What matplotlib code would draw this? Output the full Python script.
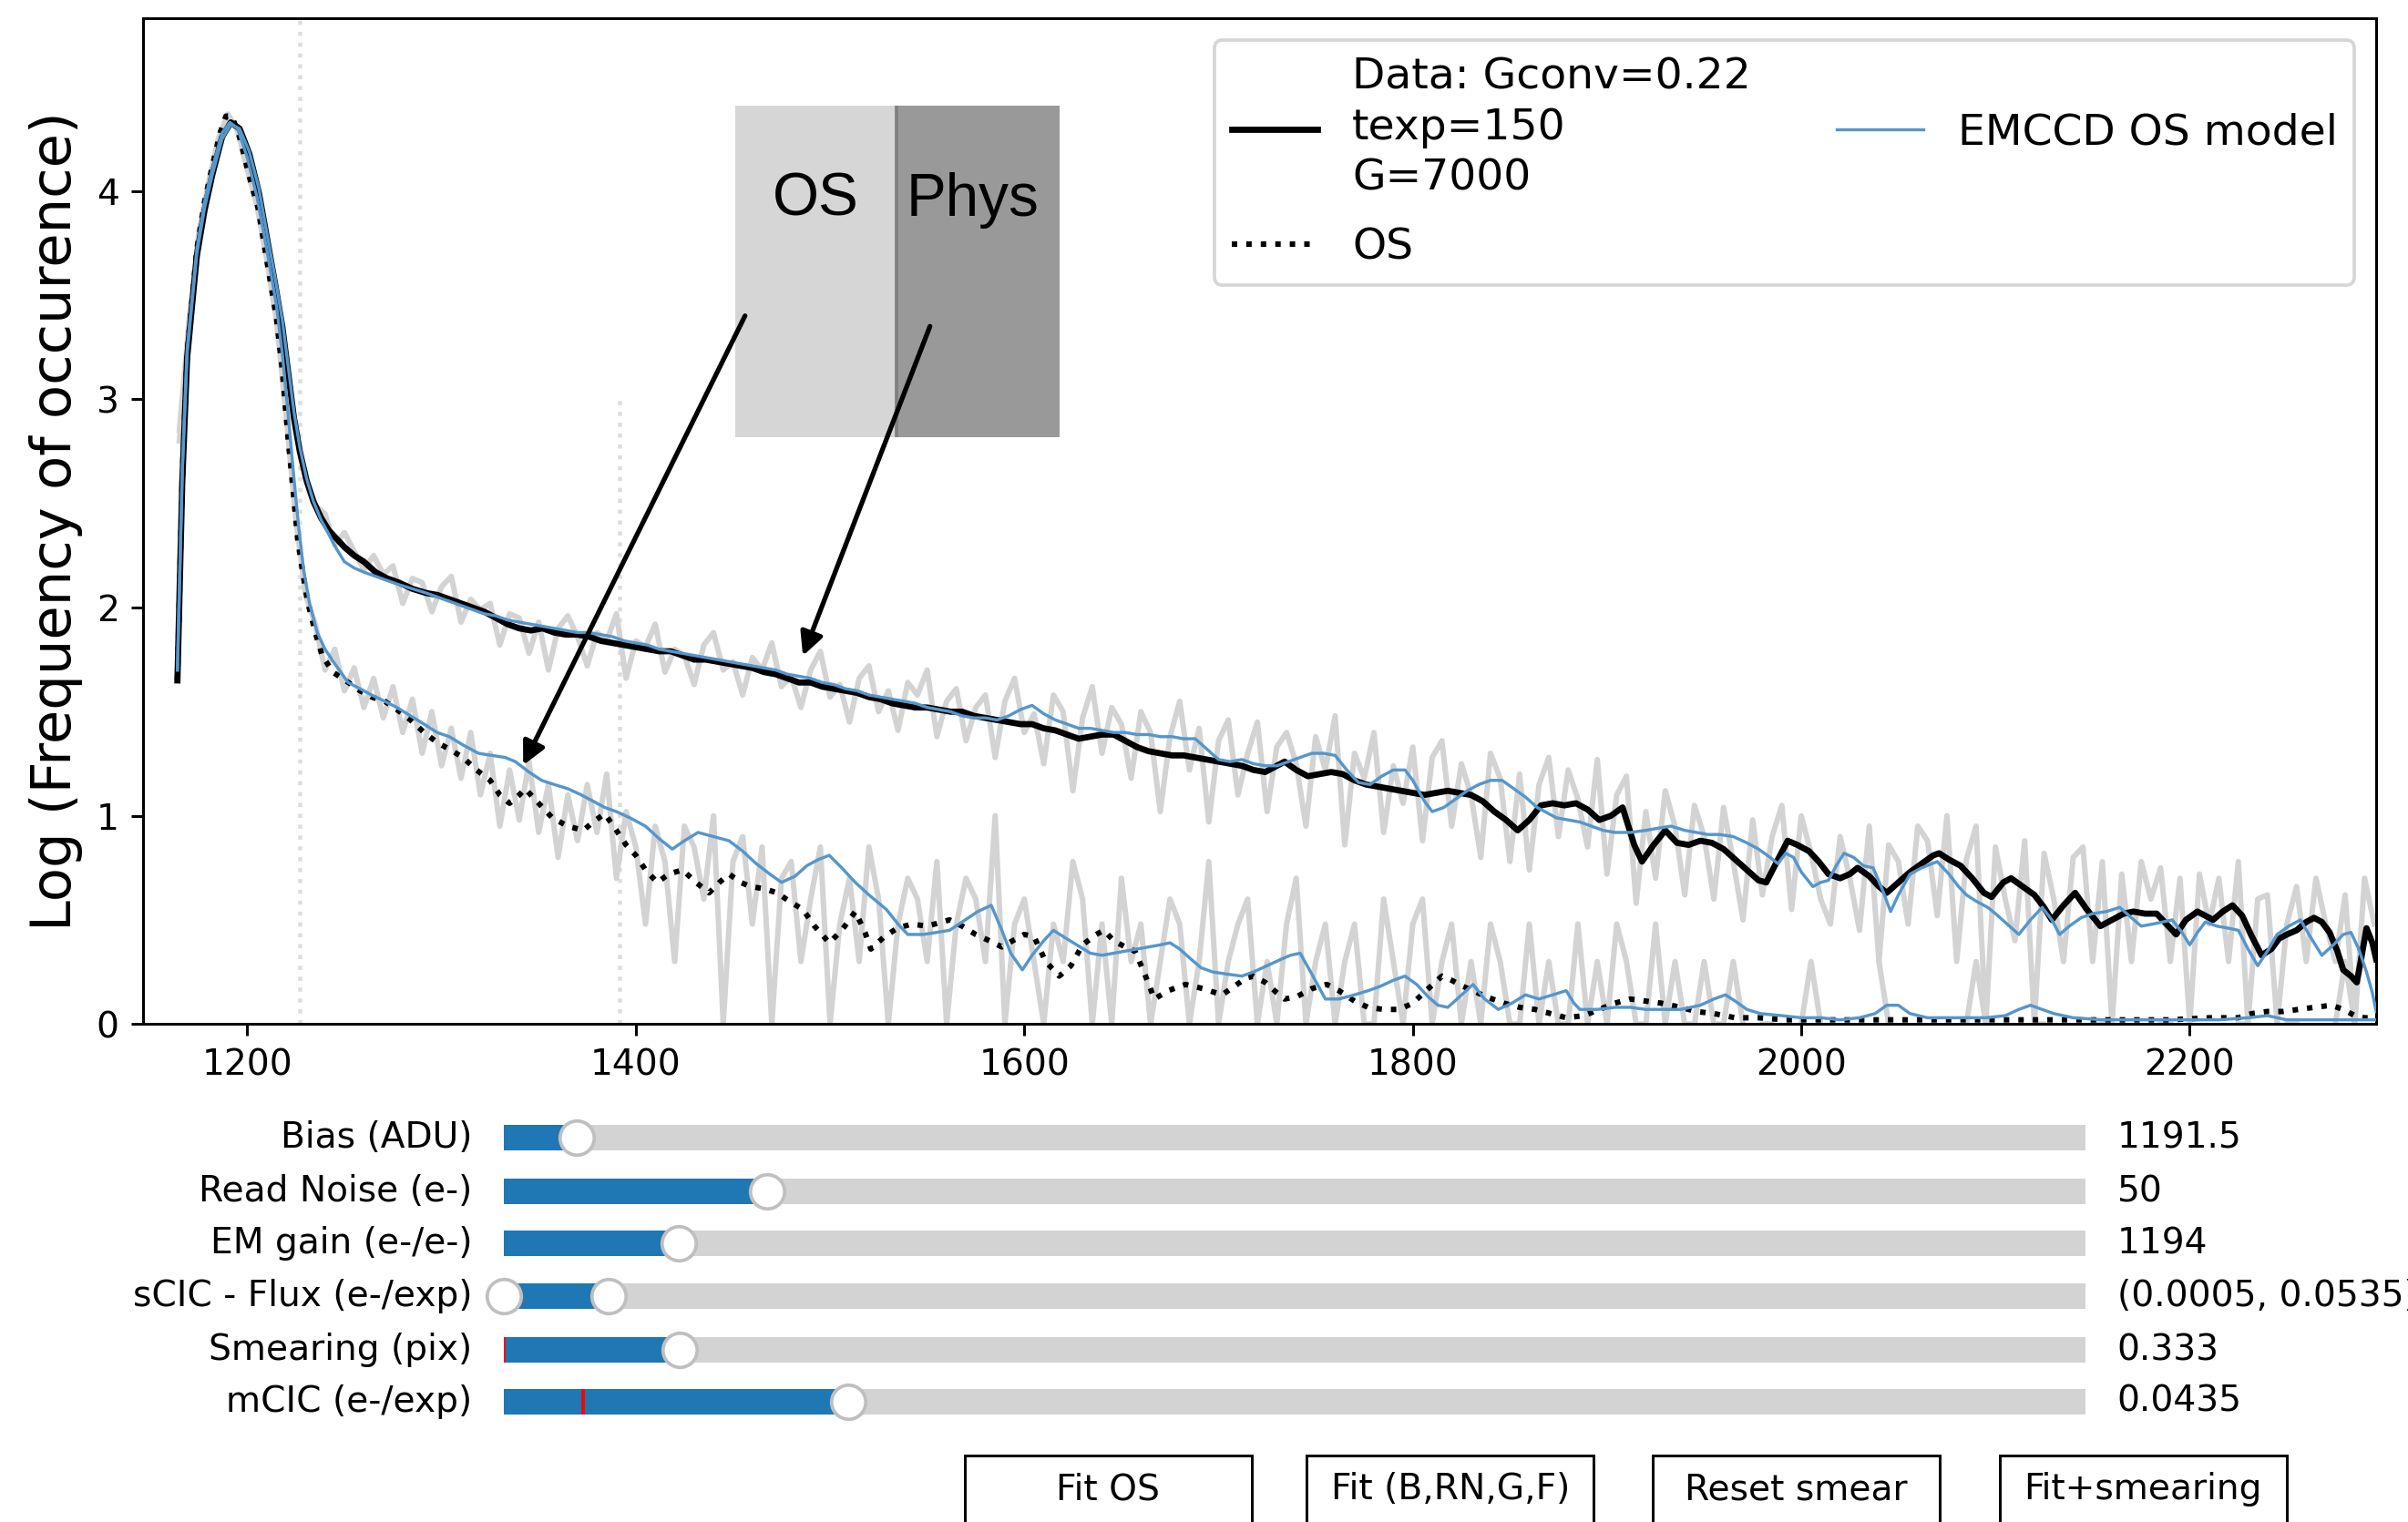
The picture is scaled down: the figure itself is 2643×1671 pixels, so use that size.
import numpy as np
import matplotlib
matplotlib.use("Agg")
import matplotlib.pyplot as plt
from matplotlib.patches import Rectangle
from matplotlib.widgets import Slider, RangeSlider, Button

plt.rcParams['font.size'] = 10.45

# raw log-histograms (5 ADU bins)
raw_x = np.arange(1165, 2300, 5)
phys_raw = [
    2.80, 3.35, 3.75, 4.00, 4.20, 4.33, 4.31, 4.20, 4.02, 3.78,
    3.52, 3.20, 2.85, 2.62, 2.49, 2.45, 2.30, 2.36, 2.27, 2.18,
    2.25, 2.16, 2.20, 2.02, 2.14, 2.12, 1.98, 2.10, 2.15, 1.93,
    2.04, 1.99, 2.02, 1.82, 1.97, 1.95, 1.78, 1.93, 1.70, 1.90,
    1.96, 1.86, 1.72, 1.88, 1.84, 1.97, 1.66, 1.84, 1.81, 1.92,
    1.69, 1.80, 1.77, 1.63, 1.82, 1.88, 1.70, 1.74, 1.58, 1.76,
    1.70, 1.83, 1.62, 1.67, 1.52, 1.70, 1.79, 1.57, 1.63, 1.45,
    1.66, 1.72, 1.50, 1.60, 1.41, 1.64, 1.58, 1.70, 1.38, 1.55,
    1.61, 1.36, 1.52, 1.58, 1.28, 1.55, 1.66, 1.40, 1.49, 1.25,
    1.58, 1.50, 1.12, 1.47, 1.62, 1.30, 1.52, 1.44, 1.18, 1.50,
    1.40, 1.02, 1.38, 1.55, 1.22, 1.42, 0.97, 1.36, 1.46, 1.10,
    1.30, 1.45, 1.02, 1.33, 1.40, 1.25, 0.95, 1.38, 1.22, 1.48,
    0.86, 1.30, 1.18, 1.40, 0.92, 1.24, 1.06, 1.33, 0.88, 1.28,
    1.36, 0.95, 1.25, 1.10, 0.80, 1.30, 1.18, 0.78, 1.20, 0.74,
    1.15, 1.28, 0.90, 1.22, 1.08, 0.85, 1.27, 0.72, 1.10, 1.19,
    0.58, 1.02, 0.70, 1.12, 0.95, 0.62, 1.05, 0.90, 0.60, 1.04,
    0.78, 0.50, 0.98, 0.62, 0.90, 1.05, 0.55, 1.00, 0.82, 0.60,
    0.48, 0.90, 0.70, 0.45, 0.95, 0.30, 0.86, 0.78, 0.48, 0.95,
    0.88, 0.52, 1.00, 0.30, 0.79, 0.95, 0.00, 0.85, 0.60, 0.40,
    0.88, 0.00, 0.82, 0.60, 0.30, 0.80, 0.85, 0.30, 0.78, 0.00,
    0.72, 0.30, 0.78, 0.60, 0.75, 0.30, 0.70, 0.00, 0.72, 0.48,
    0.70, 0.30, 0.78, 0.00, 0.60, 0.62, 0.00, 0.48, 0.66, 0.30,
    0.70, 0.48, 0.30, 0.62, 0.00, 0.70, 0.48,
]
nan = np.nan
os_raw = [
    2.85, 3.38, 3.80, 4.04, 4.25, 4.37, 4.29, 4.10, 3.93, 3.67,
    3.38, 2.92, 2.42, 2.06, 1.92, 1.70, 1.80, 1.60, 1.71, 1.52,
    1.66, 1.47, 1.62, 1.40, 1.56, 1.30, 1.50, 1.24, 1.42, 1.18,
    1.40, 1.10, 1.30, 0.95, 1.22, 0.98, 1.26, 0.92, 1.15, 0.80,
    1.10, 0.88, 1.15, 0.92, 1.20, 0.70, 1.02, 0.85, 0.48, 0.95,
    0.78, 0.30, 0.95, 0.85, 0.60, 1.00, 0.00, 0.78, 0.90, 0.48,
    0.85, 0.00, 0.70, 0.78, 0.30, 0.60, 0.85, 0.00, 0.48, 0.70,
    0.30, 0.85, 0.60, 0.00, 0.48, 0.70, 0.60, 0.30, 0.78, 0.00,
    0.48, 0.70, 0.60, 0.30, 1.00, 0.00, 0.48, 0.60, 0.30, 0.00,
    0.48, 0.30, 0.78, 0.60, 0.00, 0.48, 0.00, 0.70, 0.30, 0.48,
    0.00, 0.30, 0.60, 0.48, 0.00, 0.30, 0.78, 0.00, 0.30, 0.48,
    0.60, 0.00, 0.30, 0.00, 0.48, 0.70, 0.00, 0.30, 0.48, 0.00,
    0.30, 0.48, 0.00, 0.00, 0.60, 0.30, 0.00, 0.48, 0.60, 0.00,
    0.30, 0.48, 0.00, 0.30, 0.00, 0.48, 0.30, 0.00, 0.00, 0.48,
    0.00, 0.30, 0.00, 0.00, 0.48, 0.00, 0.30, 0.00, 0.48, 0.30,
    0.00, 0.00, 0.48, 0.00, 0.30, 0.00, 0.00, 0.30, 0.00, 0.00,
    0.30, 0.00, nan, 0.00, 0.00, nan, nan, 0.00, 0.30, 0.00,
    nan, nan, 0.00, nan, nan, 0.30, 0.00, nan, nan, nan,
    0.00, nan, nan, nan, 0.00, 0.30, 0.00, nan, nan, nan,
    nan, 0.00, 0.00, nan, nan, nan, nan, 0.00, 0.00, nan,
    nan, nan, nan, nan, 0.00, 0.00, nan, nan, nan, nan,
    nan, nan, 0.00, 0.00, nan, nan, nan, 0.00, 0.00, nan,
    nan, nan, 0.00, 0.30, 0.00, nan, 0.00,
]

# smoothed data, physical region
phys_x = [1164, 1166.5, 1169, 1174, 1178, 1182, 1187, 1191.5, 1196, 1201, 1206, 1210, 1214, 1218, 1221, 1224, 1227, 1230.5, 1234, 1238,
          1242, 1246, 1250, 1255, 1260, 1266, 1272, 1278, 1285, 1292, 1298, 1304, 1310, 1316, 1322, 1328, 1334, 1340, 1346, 1352,
          1358, 1364, 1370, 1376, 1382, 1388, 1394, 1400, 1406, 1412, 1418, 1424, 1430, 1436, 1442, 1448, 1454, 1460, 1466, 1472,
          1478, 1484, 1490, 1496, 1502, 1508, 1514, 1520, 1526, 1532, 1538, 1544, 1550, 1556, 1562, 1568, 1574, 1580, 1586, 1592,
          1598, 1604, 1610, 1616, 1622, 1628, 1634, 1640, 1646, 1652, 1658, 1664, 1670, 1676, 1682, 1688, 1694, 1700, 1706, 1712,
          1718, 1724, 1730, 1734, 1740, 1746, 1752, 1758, 1764, 1770, 1776, 1782, 1788, 1794, 1800, 1806, 1812, 1818, 1824, 1830,
          1836, 1842, 1848, 1854, 1860, 1866, 1872, 1878, 1884, 1890, 1896, 1902, 1908, 1914, 1918, 1924, 1930, 1936, 1942, 1948,
          1954, 1960, 1966, 1972, 1978, 1982, 1988, 1993, 1998, 2004, 2009, 2014, 2020, 2025, 2029, 2035, 2040, 2044, 2050, 2056,
          2062, 2068, 2071, 2076, 2082, 2088, 2094, 2098, 2104, 2108, 2114, 2120, 2125, 2129, 2135, 2141, 2147, 2154, 2160, 2166,
          2171, 2177, 2183, 2188, 2193, 2198, 2204, 2208, 2212, 2217, 2222, 2227, 2232, 2237, 2242, 2246, 2250, 2255, 2260, 2264,
          2268, 2272, 2276, 2279, 2283, 2286, 2288, 2291, 2294, 2296]
phys_y = [1.65, 2.60, 3.20, 3.69, 3.91, 4.08, 4.26, 4.33, 4.30, 4.18, 3.99, 3.78, 3.57, 3.35, 3.13, 2.91, 2.75, 2.61, 2.51, 2.43,
          2.37, 2.33, 2.29, 2.25, 2.22, 2.17, 2.14, 2.12, 2.09, 2.07, 2.06, 2.04, 2.02, 2.00, 1.98, 1.95, 1.92, 1.90, 1.89, 1.90,
          1.88, 1.87, 1.87, 1.86, 1.84, 1.83, 1.82, 1.81, 1.80, 1.79, 1.79, 1.77, 1.75, 1.75, 1.74, 1.73, 1.72, 1.71, 1.69, 1.68,
          1.66, 1.64, 1.64, 1.62, 1.61, 1.60, 1.59, 1.57, 1.56, 1.54, 1.53, 1.52, 1.52, 1.51, 1.50, 1.50, 1.48, 1.47, 1.46, 1.45,
          1.44, 1.44, 1.42, 1.41, 1.39, 1.37, 1.38, 1.39, 1.39, 1.36, 1.33, 1.31, 1.30, 1.29, 1.29, 1.28, 1.27, 1.26, 1.25, 1.24,
          1.22, 1.21, 1.24, 1.26, 1.22, 1.19, 1.20, 1.21, 1.20, 1.17, 1.15, 1.14, 1.13, 1.12, 1.11, 1.10, 1.11, 1.12, 1.11, 1.10,
          1.07, 1.02, 0.98, 0.93, 0.98, 1.05, 1.06, 1.05, 1.06, 1.03, 0.98, 1.00, 1.04, 0.86, 0.78, 0.86, 0.93, 0.87, 0.86, 0.88,
          0.87, 0.84, 0.79, 0.74, 0.69, 0.68, 0.79, 0.88, 0.86, 0.83, 0.78, 0.72, 0.70, 0.72, 0.75, 0.71, 0.66, 0.63, 0.68, 0.73,
          0.77, 0.81, 0.82, 0.79, 0.76, 0.70, 0.63, 0.61, 0.68, 0.70, 0.66, 0.62, 0.56, 0.50, 0.57, 0.63, 0.55, 0.47, 0.50, 0.53,
          0.54, 0.53, 0.53, 0.48, 0.43, 0.50, 0.54, 0.52, 0.50, 0.54, 0.57, 0.52, 0.42, 0.33, 0.36, 0.41, 0.43, 0.45, 0.49, 0.51,
          0.49, 0.44, 0.35, 0.26, 0.23, 0.20, 0.30, 0.46, 0.39, 0.31]

# EMCCD model, physical region
model_x = [1164, 1166.5, 1169, 1174, 1178, 1182, 1187, 1191.5, 1196, 1201, 1206, 1210, 1214, 1218, 1221, 1224, 1227, 1230.5, 1234, 1238,
           1242, 1246, 1250, 1255, 1260, 1266, 1272, 1278, 1285, 1292, 1298, 1304, 1310, 1316, 1322, 1328, 1334, 1340, 1346, 1352,
           1358, 1364, 1370, 1376, 1382, 1388, 1394, 1400, 1406, 1412, 1418, 1424, 1430, 1436, 1442, 1448, 1454, 1460, 1466, 1472,
           1478, 1484, 1490, 1496, 1502, 1508, 1514, 1520, 1526, 1532, 1538, 1544, 1550, 1556, 1562, 1568, 1574, 1580, 1586, 1592,
           1598, 1604, 1610, 1616, 1622, 1628, 1634, 1640, 1646, 1652, 1658, 1664, 1670, 1676, 1682, 1688, 1694, 1700, 1706, 1712,
           1718, 1724, 1730, 1736, 1742, 1748, 1754, 1760, 1766, 1772, 1778, 1784, 1790, 1796, 1800, 1806, 1810, 1816, 1822, 1828,
           1834, 1840, 1846, 1852, 1858, 1864, 1870, 1874, 1880, 1886, 1892, 1898, 1904, 1912, 1920, 1926, 1933, 1940, 1946, 1952,
           1958, 1965, 1972, 1978, 1984, 1988, 1992, 1996, 2000, 2006, 2010, 2014, 2018, 2022, 2027, 2032, 2037, 2042, 2046, 2050,
           2056, 2062, 2070, 2076, 2081, 2085, 2090, 2096, 2100, 2106, 2112, 2118, 2124, 2129, 2133, 2138, 2144, 2150, 2157, 2164,
           2170, 2175, 2181, 2186, 2191, 2196, 2200, 2204, 2208, 2214, 2220, 2225, 2230, 2235, 2240, 2245, 2251, 2257, 2262, 2268,
           2274, 2279, 2283, 2287, 2291, 2294, 2296]
model_y = [1.70, 2.65, 3.22, 3.70, 3.92, 4.08, 4.25, 4.32, 4.30, 4.19, 4.01, 3.80, 3.60, 3.38, 3.16, 2.94, 2.77, 2.62, 2.51, 2.42,
           2.35, 2.28, 2.22, 2.19, 2.17, 2.15, 2.13, 2.11, 2.09, 2.07, 2.05, 2.03, 2.01, 1.99, 1.97, 1.96, 1.94, 1.93, 1.92, 1.91,
           1.90, 1.89, 1.88, 1.88, 1.87, 1.86, 1.84, 1.83, 1.82, 1.80, 1.79, 1.78, 1.77, 1.76, 1.75, 1.74, 1.73, 1.72, 1.71, 1.70,
           1.68, 1.67, 1.66, 1.64, 1.63, 1.61, 1.60, 1.58, 1.57, 1.56, 1.55, 1.54, 1.52, 1.51, 1.50, 1.48, 1.47, 1.47, 1.46, 1.48,
           1.51, 1.53, 1.49, 1.46, 1.44, 1.42, 1.42, 1.41, 1.40, 1.40, 1.39, 1.39, 1.38, 1.38, 1.37, 1.37, 1.32, 1.27, 1.26, 1.27,
           1.25, 1.24, 1.24, 1.26, 1.28, 1.30, 1.30, 1.29, 1.22, 1.16, 1.15, 1.19, 1.22, 1.22, 1.17, 1.07, 1.02, 1.04, 1.08, 1.12,
           1.15, 1.17, 1.17, 1.13, 1.09, 1.04, 1.01, 0.99, 0.98, 0.97, 0.95, 0.93, 0.92, 0.92, 0.93, 0.94, 0.95, 0.93, 0.92, 0.91,
           0.91, 0.90, 0.87, 0.84, 0.80, 0.77, 0.82, 0.80, 0.73, 0.66, 0.68, 0.69, 0.76, 0.82, 0.80, 0.76, 0.75, 0.64, 0.54, 0.62,
           0.72, 0.75, 0.78, 0.72, 0.66, 0.62, 0.59, 0.56, 0.53, 0.48, 0.43, 0.50, 0.56, 0.50, 0.43, 0.47, 0.51, 0.53, 0.54, 0.56,
           0.51, 0.47, 0.48, 0.49, 0.50, 0.44, 0.38, 0.44, 0.49, 0.47, 0.46, 0.45, 0.36, 0.28, 0.35, 0.43, 0.47, 0.50, 0.42, 0.33,
           0.38, 0.43, 0.44, 0.36, 0.25, 0.15, 0.06]

# smoothed data, overscan region
os_x = [1164, 1166.5, 1169, 1174, 1178, 1182, 1186, 1189, 1192, 1196, 1201, 1205.5, 1210, 1215, 1218, 1221, 1224, 1226, 1228.5, 1231,
        1235, 1238.5, 1244, 1252, 1258, 1264, 1270.7, 1277, 1284, 1291, 1298, 1304, 1311, 1318, 1325, 1330, 1335, 1340, 1343, 1350,
        1357, 1365, 1373, 1378, 1384, 1390, 1395, 1400, 1405, 1411, 1417, 1424, 1431, 1437.7, 1443, 1448, 1454, 1459, 1466, 1472.7,
        1479, 1486, 1492, 1499.6, 1506, 1513, 1518, 1521, 1528, 1534.6, 1542, 1550, 1561.5, 1568, 1575, 1582, 1588.5, 1594, 1600, 1605,
        1611, 1618, 1624, 1630, 1637, 1641, 1646, 1652, 1657, 1662, 1667, 1674, 1683, 1692, 1701.8, 1708, 1714, 1718, 1724, 1730,
        1734, 1740, 1748, 1755.7, 1762, 1770, 1777, 1785, 1793, 1800, 1808, 1815, 1820, 1826, 1831, 1838, 1847, 1855, 1863, 1871,
        1879, 1888, 1896, 1904, 1912, 1920, 1928, 1938, 1946, 1955, 1966, 1978, 1992, 2010, 2030, 2050, 2070, 2090, 2110, 2130,
        2150, 2170, 2190, 2210, 2225, 2232, 2240, 2248, 2256, 2264, 2273, 2279, 2285, 2290, 2296]
os_y = [1.65, 2.62, 3.22, 3.72, 3.95, 4.12, 4.28, 4.36, 4.36, 4.26, 4.07, 3.92, 3.67, 3.39, 3.14, 2.81, 2.52, 2.32, 2.17, 2.03,
        1.88, 1.77, 1.69, 1.64, 1.60, 1.57, 1.55, 1.51, 1.46, 1.40, 1.35, 1.32, 1.28, 1.22, 1.17, 1.10, 1.06, 1.10, 1.13, 1.06,
        0.99, 0.95, 0.93, 0.97, 1.01, 0.93, 0.86, 0.81, 0.74, 0.68, 0.72, 0.74, 0.68, 0.63, 0.68, 0.72, 0.68, 0.66, 0.65, 0.63,
        0.59, 0.55, 0.47, 0.39, 0.45, 0.54, 0.44, 0.36, 0.42, 0.46, 0.48, 0.47, 0.50, 0.47, 0.43, 0.40, 0.37, 0.40, 0.43, 0.42,
        0.30, 0.23, 0.28, 0.38, 0.43, 0.45, 0.40, 0.37, 0.35, 0.24, 0.12, 0.16, 0.19, 0.17, 0.14, 0.18, 0.22, 0.23, 0.20, 0.15,
        0.12, 0.13, 0.17, 0.19, 0.16, 0.11, 0.08, 0.07, 0.07, 0.10, 0.17, 0.23, 0.21, 0.18, 0.16, 0.13, 0.10, 0.08, 0.07, 0.05,
        0.03, 0.04, 0.07, 0.10, 0.12, 0.11, 0.10, 0.08, 0.06, 0.05, 0.03, 0.03, 0.02, 0.02, 0.02, 0.02, 0.02, 0.02, 0.02, 0.02,
        0.02, 0.02, 0.02, 0.03, 0.03, 0.05, 0.06, 0.06, 0.07, 0.08, 0.09, 0.07, 0.04, 0.03, 0.03]

# EMCCD model, overscan region
os_model_x = [1164, 1166.5, 1169, 1174, 1178, 1182, 1187, 1191, 1195, 1200, 1205, 1210, 1215, 1218, 1221, 1224, 1226.5, 1229, 1232, 1236,
              1240, 1245, 1251.9, 1258, 1264, 1270.7, 1277, 1284, 1291, 1297.7, 1304, 1311, 1319, 1326, 1332.7, 1338, 1345, 1351.5, 1358, 1365,
              1372, 1378, 1384, 1390, 1397, 1405, 1412, 1418.8, 1425, 1432, 1440, 1448, 1455, 1462, 1469, 1475, 1482, 1488, 1494, 1499.6,
              1506, 1513, 1520, 1529, 1535, 1540, 1548, 1555, 1561.5, 1568, 1576, 1583, 1588, 1593, 1599, 1604, 1610, 1615, 1620, 1627,
              1634, 1640, 1646, 1652, 1658, 1664, 1670, 1675, 1680, 1686, 1691, 1697, 1704, 1712, 1718, 1725, 1732, 1737, 1742, 1748,
              1755, 1762, 1770, 1777, 1783, 1790, 1796, 1802, 1808, 1813, 1818, 1824, 1831, 1837, 1844, 1851, 1858, 1865, 1872, 1879,
              1883, 1886, 1895, 1904, 1912, 1920, 1930, 1938, 1948, 1955, 1961, 1966, 1972, 1979, 1990, 2000, 2010, 2020, 2030, 2038,
              2044, 2050, 2056, 2065, 2080, 2095, 2105, 2112, 2118, 2124, 2130, 2140, 2155, 2170, 2185, 2200, 2215, 2230, 2240, 2250,
              2265, 2280, 2296]
os_model_y = [1.70, 2.66, 3.24, 3.72, 3.95, 4.11, 4.28, 4.33, 4.30, 4.16, 3.97, 3.72, 3.45, 3.22, 2.93, 2.62, 2.38, 2.18, 2.02, 1.88,
              1.80, 1.73, 1.64, 1.61, 1.58, 1.55, 1.52, 1.48, 1.44, 1.40, 1.38, 1.34, 1.30, 1.29, 1.28, 1.26, 1.21, 1.17, 1.15, 1.13,
              1.10, 1.07, 1.04, 1.02, 0.99, 0.95, 0.89, 0.84, 0.88, 0.92, 0.90, 0.88, 0.83, 0.77, 0.72, 0.68, 0.71, 0.76, 0.79, 0.81,
              0.75, 0.68, 0.62, 0.55, 0.48, 0.43, 0.43, 0.44, 0.45, 0.49, 0.54, 0.57, 0.46, 0.34, 0.26, 0.33, 0.40, 0.45, 0.42, 0.38,
              0.34, 0.33, 0.34, 0.35, 0.36, 0.37, 0.38, 0.39, 0.36, 0.31, 0.27, 0.25, 0.24, 0.23, 0.25, 0.28, 0.31, 0.33, 0.34, 0.24,
              0.12, 0.12, 0.14, 0.16, 0.18, 0.21, 0.23, 0.19, 0.13, 0.09, 0.08, 0.13, 0.19, 0.12, 0.07, 0.10, 0.14, 0.12, 0.14, 0.16,
              0.10, 0.07, 0.07, 0.08, 0.08, 0.07, 0.07, 0.07, 0.09, 0.12, 0.14, 0.11, 0.07, 0.05, 0.04, 0.03, 0.03, 0.02, 0.03, 0.05,
              0.09, 0.09, 0.05, 0.03, 0.03, 0.03, 0.04, 0.07, 0.09, 0.07, 0.05, 0.03, 0.02, 0.02, 0.02, 0.02, 0.02, 0.03, 0.04, 0.02,
              0.02, 0.02, 0.02]

# threshold markers
thresholds = [1227, 1391.5]

# slider panel
slider_labels = ['Bias (ADU)', 'Read Noise (e-)', 'EM gain (e-/e-)', 'sCIC - Flux (e-/exp)', 'Smearing (pix)', 'mCIC (e-/exp)']
slider_ranges = [(1140, 2250), (0, 300), (100, 10000), (0.0005, 0.8), (0, 3), (0, 0.2)]
slider_init = [1191.5, 50, 1194, (0.0005, 0.0535), 0.0, 0.01]
slider_values = [1191.5, 50, 1194, (0.0005, 0.0535), 0.333, 0.0435]
slider_fmt = ['%.1f', '%.0f', '%.0f', '%.4f', '%.3f', '%.4f']
button_labels = ['Fit OS', 'Fit (B,RN,G,F)', 'Reset smear', 'Fit+smearing']

blue = '#5596cb'
grey = '#d3d3d3'

fig = plt.figure(figsize=(2643 / 270, 1671 / 270), dpi=270)
ax = fig.add_axes([0.0594, 0.3272, 0.9274, 0.6608])

ax.axvline(thresholds[0], color='#dddddd', ls=':', lw=1.2, zorder=0)
ax.plot([thresholds[1], thresholds[1]], [0, 3.0], color='#dddddd', ls=':', lw=1.2, zorder=0)

ax.plot(raw_x, phys_raw, color=grey, lw=1.6, zorder=1)
ax.plot(raw_x, os_raw, color=grey, lw=1.6, zorder=1)

l_data, = ax.plot(phys_x, phys_y, color='k', lw=1.8, zorder=2,
                  label='Data: Gconv=0.22\ntexp=150\nG=7000')
l_os, = ax.plot(os_x, os_y, color='k', ls=':', lw=1.6, zorder=2, label='OS')
l_model, = ax.plot(model_x, model_y, color=blue, lw=0.9, zorder=3, label='EMCCD OS model')
ax.plot(os_model_x, os_model_y, color=blue, lw=0.9, zorder=3)

ax.set_xlim(1146.3, 2296)
ax.set_ylim(0, 4.83)
ax.set_xticks([1200, 1400, 1600, 1800, 2000, 2200])
ax.set_yticks([0, 1, 2, 3, 4])
ax.set_ylabel('Log (Frequency of occurence)', fontsize=16.2)
leg = ax.legend(handles=[l_data, l_os, l_model], ncol=2, loc='upper right',
                fontsize=12.6, labelspacing=0.65)
for t in leg.get_texts():
    t.set_linespacing(1.3)

# OS / Phys key with arrows
ax.add_patch(Rectangle((0.3053, 0.7127), 0.0670, 0.2178, transform=fig.transFigure,
                       facecolor='#d6d6d6', edgecolor='none', zorder=6))
ax.add_patch(Rectangle((0.3723, 0.7127), 0.0677, 0.2178, transform=fig.transFigure,
                       facecolor='#999999', edgecolor='none', zorder=6))
ax.plot([0.3723, 0.3723], [0.7127, 0.9305], transform=fig.transFigure, color='#808080',
        lw=1.0, solid_capstyle='butt', zorder=6)
ax.text(0.3388, 0.8582, 'OS', transform=fig.transFigure, ha='center', va='baseline',
        fontsize=17.5, family='Liberation Sans', zorder=7)
ax.text(0.4040, 0.8582, 'Phys', transform=fig.transFigure, ha='center', va='baseline',
        fontsize=17.5, family='Liberation Sans', zorder=7)
arrow = dict(arrowstyle='-|>', color='k', lw=1.4, mutation_scale=14, shrinkA=0, shrinkB=0)
ax.annotate('', xy=(1342, 1.243), xytext=(0.3094, 0.7925), textcoords='figure fraction',
            arrowprops=arrow, zorder=8)
ax.annotate('', xy=(1486, 1.768), xytext=(0.3862, 0.7856), textcoords='figure fraction',
            arrowprops=arrow, zorder=8)

# sliders
row_centers = [0.2525, 0.2172, 0.1831, 0.1484, 0.1131, 0.0790]
sliders = []
for i, lab in enumerate(slider_labels):
    sax = fig.add_axes([0.2092, row_centers[i] - 0.0168, 0.6569, 0.0336])
    lo, hi = slider_ranges[i]
    if isinstance(slider_init[i], tuple):
        s = RangeSlider(sax, lab, lo, hi, valinit=slider_init[i], valfmt=slider_fmt[i])
    else:
        s = Slider(sax, lab, lo, hi, valinit=slider_init[i], valfmt=slider_fmt[i])
    s.set_val(slider_values[i])
    sliders.append(s)

# buttons
button_left = [0.4005, 0.5427, 0.6862, 0.8304]
buttons = []
for left, lab in zip(button_left, button_labels):
    bax = fig.add_axes([left, -0.001, 0.1192, 0.0447])
    buttons.append(Button(bax, lab, color='white', hovercolor='0.95'))

fig.savefig('out.png', dpi=270)
